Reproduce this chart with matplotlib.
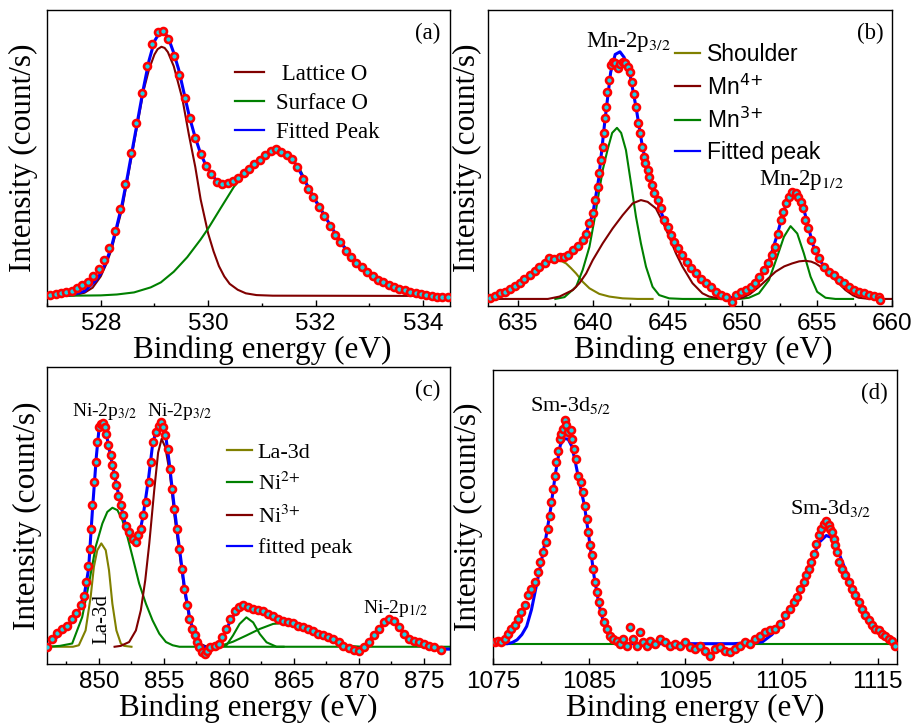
"""
XPS core-level spectra (O-1s, Mn-2p, Ni-2p/La-3d, Sm-3d) with fitted components.
Intensities are in arbitrary units (fraction of the panel height).
"""
import matplotlib
matplotlib.use("Agg")
import matplotlib.pyplot as plt
from matplotlib.ticker import MultipleLocator
from matplotlib.font_manager import FontProperties

SERIF = ["Liberation Serif", "DejaVu Serif"]
SANS = ["Liberation Sans", "DejaVu Sans"]

RED = "#ff0000"
CYAN = "#19d2e6"
BLUE = "#0000ff"
MAROON = "#800000"
GREEN = "#008000"
OLIVE = "#808000"

# ---------------- (a) O-1s ----------------
a_x = [527.06, 527.16, 527.26, 527.36, 527.46, 527.56, 527.66, 527.76, 527.86, 527.96,
       528.06, 528.16, 528.26, 528.36, 528.46, 528.56, 528.66, 528.76, 528.86, 528.96,
       529.06, 529.16, 529.26, 529.36, 529.46, 529.56, 529.66, 529.76, 529.86, 529.96,
       530.06, 530.16, 530.26, 530.36, 530.46, 530.56, 530.66, 530.76, 530.86, 530.96,
       531.06, 531.16, 531.26, 531.36, 531.46, 531.56, 531.66, 531.76, 531.86, 531.96,
       532.06, 532.16, 532.26, 532.36, 532.46, 532.56, 532.66, 532.76, 532.86, 532.96,
       533.06, 533.16, 533.26, 533.36, 533.46, 533.56, 533.66, 533.76, 533.86, 533.96,
       534.06, 534.16, 534.26, 534.36, 534.46]
a_y = [0.036, 0.041, 0.043, 0.047, 0.052, 0.061, 0.070, 0.082, 0.101, 0.124,
       0.155, 0.195, 0.255, 0.327, 0.414, 0.518, 0.620, 0.721, 0.811, 0.887,
       0.927, 0.929, 0.901, 0.845, 0.782, 0.702, 0.634, 0.569, 0.514, 0.473,
       0.445, 0.420, 0.413, 0.416, 0.422, 0.434, 0.448, 0.463, 0.481, 0.495,
       0.509, 0.525, 0.529, 0.521, 0.509, 0.498, 0.471, 0.429, 0.396, 0.368,
       0.336, 0.304, 0.270, 0.240, 0.215, 0.187, 0.166, 0.146, 0.132, 0.116,
       0.101, 0.088, 0.080, 0.072, 0.065, 0.059, 0.053, 0.047, 0.043, 0.039,
       0.036, 0.034, 0.032, 0.029, 0.029]

a_lat_x = [527.0, 527.5, 527.7, 527.85, 528.0, 528.1, 528.2, 528.3, 528.4, 528.5,
           528.6, 528.7, 528.8, 528.9, 529.0, 529.06, 529.13, 529.19, 529.25, 529.36,
           529.52, 529.64, 529.76, 529.86, 530.0, 530.1, 530.2, 530.3, 530.4, 530.55,
           530.7, 530.9, 531.2, 534.5]
a_lat_y = [0.034, 0.036, 0.045, 0.062, 0.100, 0.140, 0.190, 0.260, 0.330, 0.430,
           0.530, 0.630, 0.730, 0.800, 0.850, 0.868, 0.876, 0.872, 0.858, 0.810,
           0.700, 0.580, 0.470, 0.360, 0.245, 0.185, 0.135, 0.100, 0.075, 0.055,
           0.043, 0.037, 0.035, 0.034]

a_sur_x = [527.0, 528.0, 528.3, 528.62, 528.93, 529.12, 529.36, 529.61, 529.86, 530.0,
           530.23, 530.48, 530.7, 530.9, 531.1, 531.2, 531.3, 531.5, 531.7, 531.9,
           532.08, 532.28, 532.48, 532.68, 532.88, 533.08, 533.29, 533.48, 533.68, 533.88,
           534.08, 534.28, 534.5]
a_sur_y = [0.034, 0.036, 0.039, 0.046, 0.063, 0.080, 0.116, 0.165, 0.225, 0.262,
           0.330, 0.403, 0.450, 0.490, 0.515, 0.522, 0.520, 0.510, 0.465, 0.390,
           0.336, 0.270, 0.215, 0.166, 0.132, 0.101, 0.080, 0.065, 0.053, 0.045,
           0.040, 0.037, 0.035]

a_fit_x = [527.0, 527.3, 527.5, 527.7, 527.9, 528.0, 528.1, 528.2, 528.3, 528.4,
           528.5, 528.6, 528.7, 528.8, 528.9, 529.0, 529.1, 529.15, 529.25, 529.35,
           529.45, 529.55, 529.65, 529.75, 529.85, 529.95, 530.05, 530.15, 530.25, 530.35,
           530.45, 530.55, 530.65, 530.75, 530.85, 530.95, 531.05, 531.15, 531.25, 531.35,
           531.45, 531.55, 531.65, 531.75, 531.85, 531.95, 532.05, 532.2, 532.4, 532.6,
           532.8, 533.0, 533.2, 533.4, 533.6, 533.8, 534.0, 534.2, 534.5]
a_fit_y = [0.034, 0.036, 0.040, 0.050, 0.085, 0.110, 0.150, 0.200, 0.270, 0.345,
           0.440, 0.540, 0.640, 0.740, 0.830, 0.895, 0.925, 0.928, 0.910, 0.860,
           0.800, 0.720, 0.640, 0.575, 0.520, 0.478, 0.448, 0.425, 0.413, 0.414,
           0.420, 0.432, 0.446, 0.462, 0.478, 0.493, 0.507, 0.518, 0.522, 0.520,
           0.510, 0.497, 0.475, 0.440, 0.405, 0.370, 0.340, 0.295, 0.235, 0.180,
           0.142, 0.112, 0.088, 0.070, 0.058, 0.048, 0.041, 0.037, 0.035]

# ---------------- (b) Mn-2p ----------------
b_x = [633.16, 633.44, 633.78, 634.11, 634.44, 634.78, 635.11, 635.44, 635.78, 636.11,
       636.44, 636.78, 637.11, 637.44, 637.78, 638.11, 638.33, 638.67, 639.0, 639.33,
       639.56, 639.78, 640.0, 640.16, 640.33, 640.44, 640.56, 640.67, 640.73, 640.82,
       640.89, 640.98, 641.11, 641.22, 641.33, 641.51, 641.67, 641.82, 642.0, 642.18,
       642.33, 642.51, 642.62, 642.73, 642.89, 643.0, 643.16, 643.29, 643.4, 643.51,
       643.67, 643.78, 643.93, 644.11, 644.33, 644.56, 644.78, 645.0, 645.22, 645.44,
       645.73, 646.0, 646.27, 646.56, 646.89, 647.22, 647.56, 647.89, 648.22, 648.56,
       648.89, 649.29, 649.56, 649.89, 650.22, 650.56, 650.84, 651.11, 651.44, 651.73,
       651.96, 652.18, 652.4, 652.56, 652.73, 652.89, 653.11, 653.33, 653.56, 653.73,
       653.89, 654.04, 654.22, 654.4, 654.62, 654.84, 655.11, 655.44, 655.78, 656.11,
       656.44, 656.78, 657.11, 657.44, 657.78, 658.11, 658.44, 658.78, 659.11, 659.22]
b_y = [0.026, 0.034, 0.043, 0.048, 0.056, 0.068, 0.079, 0.090, 0.105, 0.119,
       0.133, 0.144, 0.161, 0.158, 0.164, 0.167, 0.172, 0.191, 0.203, 0.223,
       0.245, 0.279, 0.313, 0.358, 0.403, 0.448, 0.493, 0.538, 0.583, 0.634,
       0.673, 0.724, 0.764, 0.814, 0.825, 0.820, 0.803, 0.818, 0.825, 0.820,
       0.809, 0.792, 0.758, 0.718, 0.673, 0.617, 0.583, 0.538, 0.505, 0.482,
       0.459, 0.437, 0.409, 0.381, 0.358, 0.330, 0.291, 0.268, 0.240, 0.217,
       0.195, 0.172, 0.150, 0.127, 0.110, 0.093, 0.077, 0.065, 0.048, 0.037,
       0.032, 0.015, 0.037, 0.048, 0.054, 0.065, 0.079, 0.099, 0.122, 0.144,
       0.172, 0.200, 0.245, 0.291, 0.319, 0.347, 0.369, 0.386, 0.383, 0.369,
       0.352, 0.330, 0.291, 0.262, 0.223, 0.189, 0.161, 0.133, 0.116, 0.105,
       0.088, 0.077, 0.065, 0.054, 0.048, 0.043, 0.037, 0.034, 0.032, 0.020]

b_fit_x = [633.0, 634.0, 635.0, 636.0, 637.0, 637.8, 638.4, 639.0, 639.5, 640.0,
           640.4, 640.8, 641.2, 641.5, 641.82, 642.1, 642.5, 642.9, 643.3, 643.7,
           644.2, 644.7, 645.2, 645.8, 646.4, 647.0, 647.6, 648.2, 648.8, 649.4,
           650.0, 650.6, 651.2, 651.8, 652.3, 652.7, 653.1, 653.5, 653.9, 654.3,
           654.7, 655.1, 655.6, 656.2, 656.8, 657.4, 658.0, 658.6, 659.3]
b_fit_y = [0.030, 0.047, 0.075, 0.112, 0.150, 0.165, 0.175, 0.200, 0.240, 0.310,
           0.430, 0.620, 0.790, 0.850, 0.859, 0.840, 0.780, 0.670, 0.545, 0.450,
           0.370, 0.300, 0.240, 0.185, 0.140, 0.105, 0.075, 0.050, 0.034, 0.027,
           0.035, 0.060, 0.100, 0.155, 0.235, 0.310, 0.370, 0.390, 0.365, 0.290,
           0.210, 0.160, 0.125, 0.100, 0.075, 0.055, 0.043, 0.035, 0.030]

b_sh_x = [633.0, 634.0, 635.0, 635.8, 636.4, 637.0, 637.5, 637.9, 638.22, 638.55,
          638.89, 639.33, 639.78, 640.44, 641.11, 642.0, 643.0, 644.0]
b_sh_y = [0.030, 0.050, 0.078, 0.105, 0.130, 0.150, 0.156, 0.152, 0.144, 0.128,
          0.110, 0.082, 0.060, 0.041, 0.032, 0.026, 0.024, 0.024]

b_mn4_x = [633.0, 637.0, 637.78, 638.67, 639.11, 639.56, 640.0, 640.67, 641.33, 642.0,
           642.67, 643.22, 643.67, 644.22, 644.67, 645.11, 645.56, 646.0, 646.67, 647.33,
           647.78, 648.5, 649.5, 650.0, 650.5, 651.11, 651.7, 652.22, 652.8, 653.33,
           653.8, 654.22, 654.6, 654.89, 655.56, 656.22, 656.89, 657.4, 657.78, 658.5,
           660.0]
b_mn4_y = [0.024, 0.024, 0.032, 0.054, 0.077, 0.110, 0.155, 0.212, 0.262, 0.307,
           0.347, 0.358, 0.352, 0.330, 0.285, 0.234, 0.178, 0.133, 0.077, 0.043,
           0.032, 0.025, 0.024, 0.028, 0.040, 0.065, 0.092, 0.116, 0.134, 0.144,
           0.151, 0.153, 0.150, 0.144, 0.122, 0.088, 0.054, 0.036, 0.028, 0.024,
           0.024]

b_mn3_x = [637.5, 638.11, 638.89, 639.33, 639.78, 640.11, 640.33, 640.67, 641.0, 641.3,
           641.62, 641.9, 642.22, 642.56, 642.89, 643.22, 643.56, 644.0, 644.44, 645.11,
           646.0, 649.8, 650.44, 651.11, 651.78, 652.33, 652.78, 653.22, 653.67, 654.11,
           654.56, 655.0, 655.56, 656.22, 657.4]
b_mn3_y = [0.024, 0.030, 0.065, 0.122, 0.200, 0.291, 0.358, 0.460, 0.530, 0.585,
           0.602, 0.585, 0.527, 0.414, 0.302, 0.212, 0.133, 0.065, 0.037, 0.026,
           0.024, 0.024, 0.028, 0.043, 0.088, 0.167, 0.234, 0.270, 0.245, 0.178,
           0.099, 0.048, 0.028, 0.024, 0.024]

# ---------------- (c) Ni-2p / La-3d ----------------
c_x = [846.0, 846.39, 846.78, 847.16, 847.55, 847.94, 848.25, 848.58, 848.84, 849.02,
       849.18, 849.28, 849.38, 849.48, 849.61, 849.74, 849.87, 850.0, 850.13, 850.31,
       850.46, 850.57, 850.72, 850.9, 851.03, 851.19, 851.34, 851.49, 851.68, 851.86,
       852.06, 852.32, 852.58, 852.84, 853.04, 853.22, 853.4, 853.61, 853.81, 853.99,
       854.18, 854.38, 854.59, 854.77, 854.95, 855.1, 855.28, 855.46, 855.62, 855.8,
       855.98, 856.19, 856.37, 856.57, 856.75, 856.96, 857.16, 857.35, 857.53, 857.73,
       857.91, 858.12, 858.3, 858.56, 858.89, 859.23, 859.48, 859.79, 860.1, 860.44,
       860.77, 861.08, 861.47, 861.86, 862.24, 862.63, 863.02, 863.4, 863.79, 864.18,
       864.56, 864.95, 865.34, 865.72, 866.11, 866.49, 866.88, 867.27, 867.65, 868.04,
       868.43, 868.81, 869.2, 869.59, 869.97, 870.36, 870.75, 871.13, 871.52, 871.91,
       872.29, 872.68, 873.07, 873.45, 873.84, 874.23, 874.61, 875.0, 875.39, 875.77,
       876.29]
c_y = [0.056, 0.084, 0.104, 0.118, 0.129, 0.152, 0.172, 0.197, 0.230, 0.275,
       0.331, 0.388, 0.455, 0.534, 0.612, 0.680, 0.747, 0.798, 0.809, 0.812,
       0.798, 0.775, 0.736, 0.702, 0.669, 0.635, 0.601, 0.567, 0.534, 0.500,
       0.466, 0.444, 0.421, 0.412, 0.433, 0.455, 0.500, 0.545, 0.612, 0.680,
       0.747, 0.781, 0.803, 0.815, 0.798, 0.770, 0.725, 0.657, 0.590, 0.522,
       0.455, 0.388, 0.320, 0.253, 0.197, 0.152, 0.118, 0.096, 0.073, 0.056,
       0.039, 0.034, 0.045, 0.056, 0.062, 0.067, 0.090, 0.118, 0.152, 0.180,
       0.191, 0.197, 0.191, 0.185, 0.183, 0.180, 0.169, 0.163, 0.152, 0.146,
       0.140, 0.138, 0.129, 0.124, 0.118, 0.112, 0.101, 0.096, 0.090, 0.084,
       0.073, 0.062, 0.053, 0.048, 0.045, 0.056, 0.073, 0.096, 0.118, 0.140,
       0.152, 0.146, 0.124, 0.101, 0.084, 0.079, 0.073, 0.067, 0.060, 0.056,
       0.048]

c_fit_x = [846.0, 846.5, 847.0, 847.5, 848.0, 848.5, 848.9, 849.2, 849.5, 849.8,
           850.0, 850.25, 850.5, 850.8, 851.2, 851.6, 852.0, 852.4, 852.8, 853.1,
           853.4, 853.8, 854.1, 854.4, 854.8, 855.1, 855.4, 855.8, 856.2, 856.6,
           857.0, 857.4, 857.8, 858.2, 858.6, 859.0, 859.5, 860.0, 860.5, 861.0,
           861.5, 862.0, 862.6, 863.2, 863.8, 864.5, 865.2, 866.0, 866.8, 867.6,
           868.4, 869.2, 869.8, 870.4, 871.0, 871.6, 872.3, 872.8, 873.4, 874.0,
           874.8, 875.6, 876.3, 877.0]
c_fit_y = [0.060, 0.080, 0.100, 0.120, 0.145, 0.185, 0.240, 0.320, 0.520, 0.700,
           0.790, 0.815, 0.790, 0.720, 0.635, 0.550, 0.475, 0.430, 0.410, 0.435,
           0.500, 0.620, 0.730, 0.790, 0.815, 0.780, 0.680, 0.525, 0.385, 0.250,
           0.150, 0.095, 0.065, 0.055, 0.058, 0.065, 0.085, 0.135, 0.175, 0.195,
           0.190, 0.185, 0.178, 0.165, 0.152, 0.140, 0.130, 0.118, 0.103, 0.090,
           0.073, 0.056, 0.050, 0.058, 0.090, 0.125, 0.150, 0.140, 0.105, 0.082,
           0.070, 0.058, 0.050, 0.050]

c_la_x = [846.0, 848.0, 848.45, 848.97, 849.36, 849.61, 849.87, 850.18, 850.52, 850.77,
          851.03, 851.34, 851.68, 851.93, 852.5]
c_la_y = [0.058, 0.058, 0.063, 0.113, 0.226, 0.327, 0.383, 0.406, 0.383, 0.316,
          0.203, 0.113, 0.069, 0.061, 0.058]

c_ni2_x = [846.0, 847.0, 847.94, 848.71, 849.23, 849.74, 850.26, 850.64, 851.03, 851.42,
           851.8, 852.19, 852.58, 853.09, 853.61, 854.12, 854.64, 855.15, 855.67, 856.19,
           858.0, 877.0]
c_ni2_y = [0.058, 0.061, 0.069, 0.158, 0.271, 0.394, 0.473, 0.512, 0.526, 0.518,
           0.484, 0.428, 0.361, 0.271, 0.203, 0.147, 0.102, 0.074, 0.063, 0.058,
           0.058, 0.058]

c_sat1_x = [859.3, 859.79, 860.31, 860.82, 861.34, 861.86, 862.37, 862.89, 863.66, 864.2]
c_sat1_y = [0.058, 0.062, 0.096, 0.135, 0.157, 0.140, 0.101, 0.073, 0.058, 0.058]

c_sat2_x = [858.8, 859.28, 860.31, 861.34, 862.37, 863.4, 864.3, 865.2, 866.0, 867.0,
            868.0, 869.0, 870.0]
c_sat2_y = [0.058, 0.060, 0.075, 0.096, 0.118, 0.135, 0.138, 0.128, 0.112, 0.093,
            0.075, 0.062, 0.058]

c_ni3_x = [851.2, 851.68, 852.32, 852.84, 853.22, 853.56, 853.87, 854.25, 854.55, 854.82,
           855.1, 855.46, 855.8, 856.2, 856.57, 856.96, 857.35, 857.7, 858.2, 858.7]
c_ni3_y = [0.058, 0.061, 0.074, 0.113, 0.181, 0.282, 0.406, 0.585, 0.712, 0.758,
           0.730, 0.640, 0.500, 0.370, 0.245, 0.150, 0.095, 0.070, 0.060, 0.058]

# ---------------- (d) Sm-3d ----------------
d_x = [1075.17, 1075.52, 1075.87, 1076.22, 1076.56, 1076.91, 1077.26, 1077.6, 1077.95, 1078.3,
       1078.65, 1078.99, 1079.34, 1079.69, 1079.93, 1080.21, 1080.49, 1080.73, 1080.9, 1081.08,
       1081.25, 1081.42, 1081.6, 1081.77, 1081.94, 1082.12, 1082.29, 1082.47, 1082.64, 1082.81,
       1083.06, 1083.26, 1083.44, 1083.61, 1083.85, 1084.1, 1084.31, 1084.55, 1084.72, 1084.9,
       1085.07, 1085.24, 1085.42, 1085.59, 1085.76, 1086.01, 1086.28, 1086.53, 1086.81, 1087.15,
       1087.5, 1087.85, 1088.19, 1088.54, 1088.89, 1089.24, 1089.58, 1089.93, 1090.28, 1090.63,
       1090.97, 1091.32, 1091.84, 1092.36, 1092.88, 1093.4, 1093.92, 1094.44, 1094.97, 1095.49,
       1096.01, 1096.53, 1097.05, 1097.57, 1098.09, 1098.61, 1099.13, 1099.65, 1100.17, 1100.69,
       1101.22, 1101.74, 1102.26, 1102.78, 1103.3, 1103.82, 1104.34, 1104.86, 1105.38, 1105.9,
       1106.25, 1106.6, 1106.94, 1107.29, 1107.57, 1107.81, 1108.06, 1108.33, 1108.58, 1108.85,
       1109.1, 1109.38, 1109.65, 1109.9, 1110.07, 1110.24, 1110.42, 1110.59, 1110.76, 1111.01,
       1111.28, 1111.63, 1111.98, 1112.33, 1112.67, 1113.02, 1113.37, 1113.72, 1114.06, 1114.41,
       1114.76, 1115.1, 1115.45, 1115.8, 1116.15, 1116.49, 1116.84]
d_y = [0.074, 0.079, 0.074, 0.085, 0.102, 0.119, 0.131, 0.153, 0.176, 0.199,
       0.233, 0.255, 0.278, 0.312, 0.346, 0.380, 0.414, 0.460, 0.505, 0.551,
       0.596, 0.641, 0.687, 0.726, 0.766, 0.783, 0.800, 0.829, 0.812, 0.789,
       0.795, 0.766, 0.732, 0.698, 0.641, 0.619, 0.585, 0.539, 0.494, 0.448,
       0.403, 0.369, 0.323, 0.278, 0.244, 0.210, 0.176, 0.142, 0.119, 0.096,
       0.085, 0.079, 0.068, 0.085, 0.062, 0.125, 0.085, 0.062, 0.108, 0.074,
       0.062, 0.079, 0.068, 0.085, 0.074, 0.062, 0.068, 0.062, 0.074, 0.057,
       0.051, 0.062, 0.045, 0.028, 0.051, 0.057, 0.045, 0.040, 0.051, 0.062,
       0.074, 0.068, 0.085, 0.096, 0.108, 0.114, 0.119, 0.136, 0.165, 0.187,
       0.210, 0.227, 0.255, 0.278, 0.301, 0.323, 0.346, 0.375, 0.409, 0.437,
       0.460, 0.477, 0.485, 0.471, 0.460, 0.448, 0.426, 0.403, 0.380, 0.346,
       0.323, 0.301, 0.278, 0.255, 0.233, 0.210, 0.187, 0.165, 0.148, 0.131,
       0.119, 0.114, 0.102, 0.096, 0.085, 0.079, 0.062]

d_fit_x = [1075.0, 1076.5, 1077.0, 1077.5, 1078.0, 1078.5, 1079.0, 1079.5, 1080.0, 1080.5,
           1081.0, 1081.5, 1082.0, 1082.4, 1082.8, 1083.2, 1083.6, 1084.0, 1084.5, 1085.0,
           1085.5, 1086.0, 1086.5, 1087.0, 1087.5, 1088.0, 1089.0, 1100.0, 1103.0, 1104.0,
           1105.0, 1106.0, 1107.0, 1108.0, 1108.8, 1109.65, 1110.2, 1110.8, 1111.46, 1112.0,
           1113.0, 1114.0, 1115.0, 1116.0, 1117.0]
d_fit_y = [0.069, 0.069, 0.073, 0.082, 0.100, 0.128, 0.185, 0.265, 0.345, 0.430,
           0.530, 0.650, 0.745, 0.766, 0.765, 0.740, 0.680, 0.615, 0.540, 0.425,
           0.300, 0.205, 0.140, 0.100, 0.080, 0.072, 0.069, 0.069, 0.075, 0.100,
           0.140, 0.185, 0.250, 0.330, 0.410, 0.437, 0.430, 0.390, 0.335, 0.290,
           0.210, 0.150, 0.115, 0.090, 0.075]

d_base_x = [1075.0, 1117.0]
d_base_y = [0.069, 0.069]


def style_axes(ax, xlim, major, minor, offset, xlab_pos, ylab_x):
    ax.set_xlim(*xlim)
    ax.set_ylim(0, 1)
    ax.set_yticks([])
    ax.xaxis.set_major_locator(MultipleLocator(major, offset=offset))
    ax.xaxis.set_minor_locator(MultipleLocator(minor, offset=offset))
    ax.tick_params(axis="x", which="both", direction="in", top=False,
                   labelsize=17.5, labelfontfamily=SANS, pad=5)
    ax.tick_params(axis="x", which="major", length=4, width=1)
    ax.tick_params(axis="x", which="minor", length=2.5, width=1)
    for sp in ax.spines.values():
        sp.set_linewidth(1.0)
    ax.set_xlabel("Binding energy (eV)", fontsize=22.5, family=SERIF, va="top")
    ax.set_ylabel("Intensity (count/s)", fontsize=22.5, family=SERIF)
    ax.xaxis.set_label_coords(*xlab_pos)
    ax.yaxis.set_label_coords(ylab_x, 0.5)


def draw_points(ax, x, y):
    ax.plot(x, y, "o", ls="none", ms=5.0, mew=1.9, mec=RED, mfc=CYAN, zorder=5)


def panel_tag(ax, tag, x, y):
    ax.text(x, y, tag, transform=ax.transAxes, fontsize=16.5, family=SERIF, va="baseline")


def add_legend(ax, anchor, fp, hlen, tpad, lspace, order=None):
    handles, labels = ax.get_legend_handles_labels()
    if order is not None:
        handles = [handles[i] for i in order]
        labels = [labels[i] for i in order]
    leg = ax.legend(handles, labels, loc="upper left", bbox_to_anchor=anchor,
                    frameon=False, prop=fp, borderpad=0, borderaxespad=0,
                    handlelength=hlen, handletextpad=tpad, labelspacing=lspace)
    for h in leg.legend_handles:
        h.set_linewidth(1.6)
    return leg


fig = plt.figure(figsize=(9.14, 7.24), dpi=100)
ax_a = fig.add_axes([0.0514, 0.5773, 0.4409, 0.4088])
ax_b = fig.add_axes([0.5339, 0.5773, 0.4420, 0.4088])
ax_c = fig.add_axes([0.0514, 0.0829, 0.4409, 0.4102])
ax_d = fig.add_axes([0.5394, 0.0829, 0.4420, 0.4061])

# (a)
ax_a.plot(a_lat_x, a_lat_y, color=MAROON, lw=1.5, label=" Lattice O")
ax_a.plot(a_sur_x, a_sur_y, color=GREEN, lw=1.5, label="Surface O")
ax_a.plot(a_fit_x, a_fit_y, color=BLUE, lw=2.2, label="Fitted Peak")
draw_points(ax_a, a_x, a_y)
style_axes(ax_a, (527, 534.5), 2, 1, 0, (0.5335, -0.0997), -0.0216)
panel_tag(ax_a, "(a)", 0.913, 0.901)
add_legend(ax_a, (0.4665, 0.817), FontProperties(family=SERIF, size=16.5), 1.25, 0.55, 0.35)

# (b)
ax_b.plot(b_sh_x, b_sh_y, color=OLIVE, lw=1.5, label="Shoulder")
ax_b.plot(b_mn3_x, b_mn3_y, color=GREEN, lw=1.5, label="Mn$^{3{+}}$")
ax_b.plot(b_mn4_x, b_mn4_y, color=MAROON, lw=1.5, label="Mn$^{4{+}}$")
ax_b.plot(b_fit_x, b_fit_y, color=BLUE, lw=2.2, label="Fitted peak")
draw_points(ax_b, b_x, b_y)
style_axes(ax_b, (633, 660), 5, 2.5, 0, (0.532, -0.0997), -0.0149)
panel_tag(ax_b, "(b)", 0.914, 0.901)
ax_b.text(0.243, 0.874, "Mn-2p$_{3/2}$", transform=ax_b.transAxes, fontsize=16.5,
          family=SERIF, math_fontfamily="stix", va="baseline")
ax_b.text(0.671, 0.409, "Mn-2p$_{1/2}$", transform=ax_b.transAxes, fontsize=16.5,
          family=SERIF, math_fontfamily="stix", va="baseline")
add_legend(ax_b, (0.463, 0.888),
           FontProperties(family=SANS, size=16.5, math_fontfamily="dejavusans"),
           1.1, 0.3, 0.35, order=[0, 2, 1, 3])

# (c)
ax_c.plot(c_la_x, c_la_y, color=OLIVE, lw=1.5, label="La-3d")
ax_c.plot(c_ni2_x, c_ni2_y, color=GREEN, lw=1.5, label="Ni$^{2{+}}$")
ax_c.plot(c_sat1_x, c_sat1_y, color=GREEN, lw=1.5)
ax_c.plot(c_sat2_x, c_sat2_y, color=GREEN, lw=1.5)
ax_c.plot(c_ni3_x, c_ni3_y, color=MAROON, lw=1.5, label="Ni$^{3{+}}$")
ax_c.plot(c_fit_x, c_fit_y, color=BLUE, lw=2.2, label="fitted peak")
draw_points(ax_c, c_x, c_y)
style_axes(ax_c, (846, 877), 5, 2.5, 0, (0.5, -0.098), -0.0132)
panel_tag(ax_c, "(c)", 0.913, 0.902)
for xt, yt, s in [(0.061, 0.835, "Ni-2p$_{3/2}$"), (0.247, 0.835, "Ni-2p$_{3/2}$"),
                  (0.785, 0.173, "Ni-2p$_{1/2}$")]:
    ax_c.text(xt, yt, s, transform=ax_c.transAxes, fontsize=14, family=SERIF,
              math_fontfamily="stix", va="baseline")
ax_c.text(850.26, 0.152, "La-3d", rotation=90, fontsize=15, family=SERIF,
          ha="center", va="center", zorder=6)
add_legend(ax_c, (0.446, 0.747),
           FontProperties(family=SERIF, size=16, math_fontfamily="stix"), 1.12, 0.28, 0.46)

# (d)
ax_d.plot(d_base_x, d_base_y, color=GREEN, lw=1.5)
ax_d.plot(d_fit_x, d_fit_y, color=BLUE, lw=2.2)
draw_points(ax_d, d_x, d_y)
style_axes(ax_d, (1075, 1117), 10, 5, 5, (0.5, -0.099), -0.024)
panel_tag(ax_d, "(d)", 0.912, 0.900)
ax_d.text(0.0916, 0.859, "Sm-3d$_{5/2}$", transform=ax_d.transAxes, fontsize=16,
          family=SERIF, math_fontfamily="stix", va="baseline")
ax_d.text(0.735, 0.511, "Sm-3d$_{3/2}$", transform=ax_d.transAxes, fontsize=16,
          family=SERIF, math_fontfamily="stix", va="baseline")

fig.savefig("out.png", dpi=100)
